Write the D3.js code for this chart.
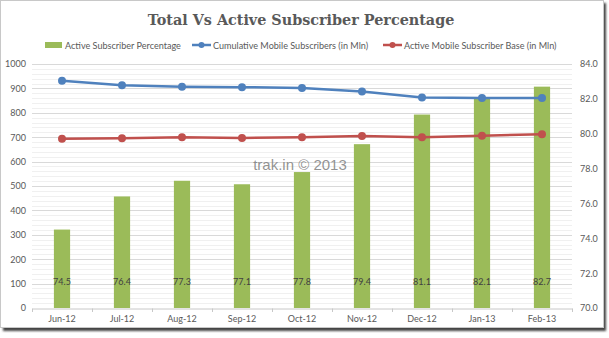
<!DOCTYPE html>
<html><head><meta charset="utf-8">
<script src="https://cdn.jsdelivr.net/npm/d3@7"></script>
<style>body{margin:0;background:#fff}svg{display:block}</style></head>
<body>
<script>
const months = ["Jun-12","Jul-12","Aug-12","Sep-12","Oct-12","Nov-12","Dec-12","Jan-13","Feb-13"];
const activePct = [74.5,76.4,77.3,77.1,77.8,79.4,81.1,82.1,82.7];
const cumulative = [931,913,907,905,902,887,863,861,861];
const activeBase = [694,696,700,697,700,705,700,706,712];
const leftTicks = [0,100,200,300,400,500,600,700,800,900,1000];
const rightTicks = [70,72,74,76,78,80,82,84];
const seriesNames = ["Active Subscriber Percentage","Cumulative Mobile Subscribers (in Mln)","Active Mobile Subscriber Base (in Mln)"];
const titleText = "Total Vs Active Subscriber Percentage";
const watermark = "trak.in \u00A9 2013";

const W = 609, H = 338;
const green = "#9BBB59", blue = "#4F81BD", red = "#C0504D";
const svg = d3.select("body").append("svg").attr("width", W).attr("height", H);

// frame with shadow
const defs = svg.append("defs");
const f = defs.append("filter").attr("id","sh").attr("x","-5%").attr("y","-5%").attr("width","110%").attr("height","110%");
f.append("feGaussianBlur").attr("stdDeviation",1.2);
svg.append("rect").attr("x",3).attr("y",3).attr("width",603).attr("height",328).attr("fill","#444").attr("filter","url(#sh)");
svg.append("rect").attr("x",0.5).attr("y",0.5).attr("width",603).attr("height",327).attr("fill","#fff").attr("stroke","#c8c8c8");

const x = d3.scaleBand().domain(months).range([32,572]).padding(0);
const yL = d3.scaleLinear().domain([0,1000]).range([308,64]);
const yR = d3.scaleLinear().domain([70,84]).range([308,64]);

// gridlines
const g = svg.append("g");
g.selectAll("line.minor").data(d3.range(0,1001,20).filter(v=>v%100!==0)).join("line")
  .attr("x1",32).attr("x2",572).attr("y1",d=>Math.round(yL(d))+0.5).attr("y2",d=>Math.round(yL(d))+0.5)
  .attr("stroke","#f0f0f0");
g.selectAll("line.major").data(leftTicks.slice(1)).join("line")
  .attr("x1",32).attr("x2",572).attr("y1",d=>Math.round(yL(d))+0.5).attr("y2",d=>Math.round(yL(d))+0.5)
  .attr("stroke","#d9d9d9");

const axisFont = "Lato, 'Open Sans', sans-serif";

// x axis
const xAxis = d3.axisBottom(x).tickSize(0).tickPadding(7);
const xa = svg.append("g").attr("transform","translate(0,308.5)").call(xAxis);
xa.select(".domain").attr("stroke","#c8c8c8");
xa.selectAll("text").attr("font-family",axisFont).attr("font-size",9).attr("fill","#595959");
svg.append("g").selectAll("line").data(d3.range(months.length+1)).join("line")
  .attr("x1",i=>32+i*x.step()+0.5).attr("x2",i=>32+i*x.step()+0.5).attr("y1",308.5).attr("y2",312)
  .attr("stroke","#c8c8c8");

// left axis
const la = svg.append("g").attr("transform","translate(32,0)")
  .call(d3.axisLeft(yL).tickValues(leftTicks).tickSize(0).tickPadding(6).tickFormat(d3.format("d")));
la.select(".domain").remove();
la.selectAll("text").attr("font-family",axisFont).attr("font-size",9).attr("fill","#595959");

// right axis
const ra = svg.append("g").attr("transform","translate(572,0)")
  .call(d3.axisRight(yR).tickValues(rightTicks).tickSize(0).tickPadding(8).tickFormat(d3.format(".1f")));
ra.select(".domain").remove();
ra.selectAll("text").attr("font-family",axisFont).attr("font-size",9).attr("fill","#595959");

// bars
const bw = x.bandwidth()*0.27;
svg.append("g").selectAll("rect").data(months).join("rect")
  .attr("x",(m)=>x(m)+x.bandwidth()/2-bw/2).attr("width",bw)
  .attr("y",(m,i)=>yR(activePct[i])).attr("height",(m,i)=>yR(70)-yR(activePct[i]))
  .attr("fill",green);
svg.append("g").selectAll("text").data(months).join("text")
  .attr("x",m=>x(m)+x.bandwidth()/2).attr("y",285)
  .attr("text-anchor","middle").attr("font-family",axisFont).attr("font-size",9).attr("fill","#404040")
  .text((m,i)=>activePct[i].toFixed(1));

// lines
function drawLine(vals,color){
  const line = d3.line().x((d,i)=>x(months[i])+x.bandwidth()/2).y(d=>yL(d));
  svg.append("path").datum(vals).attr("d",line).attr("fill","none").attr("stroke",color).attr("stroke-width",2.5).attr("stroke-linejoin","round");
  svg.append("g").selectAll("circle").data(vals).join("circle")
    .attr("cx",(d,i)=>x(months[i])+x.bandwidth()/2).attr("cy",d=>yL(d)).attr("r",4).attr("fill",color);
}
drawLine(cumulative,blue);
drawLine(activeBase,red);

// watermark
svg.append("text").attr("x",300).attr("y",170).attr("text-anchor","middle")
  .attr("font-family","'Liberation Sans', Arial, sans-serif").attr("font-size",15).attr("fill","#808080").attr("fill-opacity",0.85)
  .text(watermark);

// title
const t = svg.append("text").attr("x",301).attr("y",25).attr("text-anchor","middle")
  .attr("font-family","'DejaVu Serif', serif").attr("font-weight","bold").attr("font-size",20).attr("fill","#595959")
  .text(titleText);
const tl = t.node().getComputedTextLength();
t.attr("font-size", 20*307/tl);

// legend
const lg = svg.append("g").attr("font-family",axisFont).attr("font-size",10).attr("fill","#595959");
const probe = lg.append("text").text(seriesNames[0]);
const lfs = 10*116/probe.node().getComputedTextLength();
probe.remove();
lg.attr("font-size", lfs);
lg.append("rect").attr("x",45).attr("y",42).attr("width",17).attr("height",6).attr("fill",green);
lg.append("text").attr("x",65).attr("y",48.5).text(seriesNames[0]);
[[blue,192,213,seriesNames[1]],[red,383,404,seriesNames[2]]].forEach(([c,x0,tx,name])=>{
  lg.append("line").attr("x1",x0).attr("x2",x0+19).attr("y1",45).attr("y2",45).attr("stroke",c).attr("stroke-width",2.5);
  lg.append("circle").attr("cx",x0+9.5).attr("cy",45).attr("r",3).attr("fill",c);
  lg.append("text").attr("x",tx).attr("y",48.5).text(name);
});
</script>
</body></html>
